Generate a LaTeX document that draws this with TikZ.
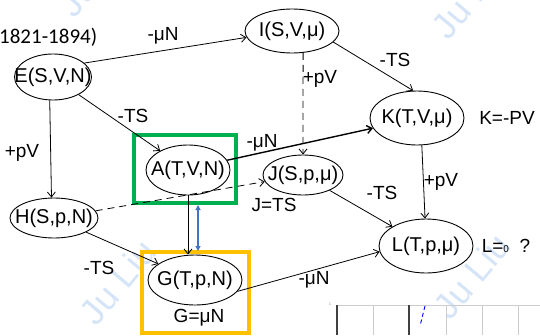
\documentclass[tikz,border=0pt]{standalone}
\usepackage{fontspec}
\setmainfont{Liberation Sans}
\newfontfamily\yearfont{Carlito}
\usetikzlibrary{arrows.meta,shapes.geometric}
\definecolor{boxgreen}{HTML}{00B050}
\definecolor{boxgold}{HTML}{FFC000}
\definecolor{linkblue}{HTML}{4472C4}
\definecolor{markblue}{HTML}{D5E5F7}
% keep node text from growing the ellipse
\newcommand\zw[1]{\makebox[0pt]{#1}}
\begin{document}
\begin{tikzpicture}[x=1pt,y=-1pt,
  state/.style={ellipse, draw, line width=0.9pt, inner sep=0pt, font=\fontsize{20}{20}\selectfont},
  flow/.style={line width=0.8pt, -{Straight Barb[length=5pt,width=8pt]}},
  dashflow/.style={flow, dash pattern=on 7pt off 5pt},
  lbl/.style={font=\fontsize{19}{19}\selectfont, inner sep=0pt},
  wmark/.style={text=markblue, font=\fontsize{36}{36}\selectfont, rotate=50, inner sep=0pt},
  hbox/.style={draw, line width=4.5pt, inner sep=0pt}]
\useasboundingbox (0,0) rectangle (540,335);

% watermark
\node[wmark] (wm1) at (118,282) {Ju Liu};
\node[wmark] (wm2) at (472,276) {Ju Liu};
\node[wmark] (wm3) at (470,-4) {Ju Liu};
\node[wmark] (wm4) at (96,-26) {Ju Liu};

% chart fragment, lower right
\draw[black!20, line width=0.6pt] (337,305) -- (540,305);
\foreach \gx in {373,446,482,518} \draw[black!20, line width=0.6pt] (\gx,305) -- (\gx,335);
\draw[black!75, line width=1.2pt] (337,305) -- (337,335);
\draw[black!75, line width=1.2pt] (409,305) -- (409,335);
\draw[blue, line width=0.9pt, dash pattern=on 4pt off 3pt] (425,306) -- (420,326);
\node[text=black!40, font=\fontsize{4}{4}\selectfont, inner sep=0pt] (tick) at (330,304) {1};

% dates
\node[font=\yearfont\fontsize{21}{21}\selectfont, anchor=west, inner sep=0pt] (years) at (-1,37) {1821-1894)};

% potentials
\node[state, minimum width=77pt, minimum height=46pt] (E) at (53,77) {\zw{E(S,V,N)}};
\node[state, minimum width=94pt, minimum height=44pt] (I) at (292,31) {\zw{I(S,V,μ)}};
\node[state, minimum width=94pt, minimum height=54pt] (K) at (417,118) {\zw{K(T,V,μ)}};
\node[state, minimum width=84pt, minimum height=50pt] (A) at (188,170) {\zw{A(T,V,N)}};
\node[state, minimum width=80pt, minimum height=40pt] (J) at (303,175) {\zw{J(S,p,μ)}};
\node[state, minimum width=88pt, minimum height=40pt] (H) at (54,218) {\zw{H(S,p,N)}};
\node[state, minimum width=94pt, minimum height=50pt] (G) at (195,280) {\zw{G(T,p,N)}};
\node[state, minimum width=94pt, minimum height=54pt] (L) at (426,246) {\zw{L(T,p,μ)}};

% side notes
\node[lbl] (Jn) at (274,205) {J=TS};
\node[lbl] (Gn) at (199,318) {G=μN};
\node[lbl] (Kn) at (507,118) {K=-PV};
\node[lbl] (Ln) at (506,246) {L={\fontsize{10}{10}\selectfont 0} \ ?};

% highlight frames
\node[hbox, draw=boxgreen, minimum width=102pt, minimum height=68pt] (gbox) at (185,169) {};
\node[hbox, draw=boxgold, minimum width=107pt, minimum height=81pt] (ybox) at (195.5,292.5) {};

% transforms
\draw[flow] (E.24) -- (I.188);
\draw[flow] (E) -- (A);
\draw[flow] (E.262) -- (H.97);
\draw[flow] (I.-15) -- (K.98);
\draw[dashflow] (I.-63) -- (J.north);
\draw[flow, line width=1.4pt] (A.14) -- (K.193);
\draw[flow] (K.-80) -- (L.92);
\draw[flow] (J) -- (L);
\draw[dashflow] (H) -- (J);
\draw[flow] (H) -- (G);
\draw[flow] (A.south) -- (A.south |- G.north);
\draw[flow] (G.-15) -- (L.187);

% A <-> G link
\coordinate (lt) at (198,205);
\coordinate (lb) at (198,251);
\draw[linkblue, line width=1.6pt, {Triangle[length=5pt,width=5pt]}-{Triangle[length=5pt,width=5pt]}] (lt) -- (lb);

% edge labels
\node[lbl] (l1) at (163,36) {-μN};
\node[lbl] (l2) at (133,116) {-TS};
\node[lbl] (l3) at (22,153) {+pV};
\node[lbl] (l4) at (395,60) {-TS};
\node[lbl] (l5) at (320,79) {+pV};
\node[lbl] (l6) at (262,143) {-μN};
\node[lbl] (l7) at (441,182) {+pV};
\node[lbl] (l8) at (382,193) {-TS};
\node[lbl] (l9) at (99,268) {-TS};
\node[lbl] (l10) at (314,280) {-μN};
\end{tikzpicture}
\end{document}
